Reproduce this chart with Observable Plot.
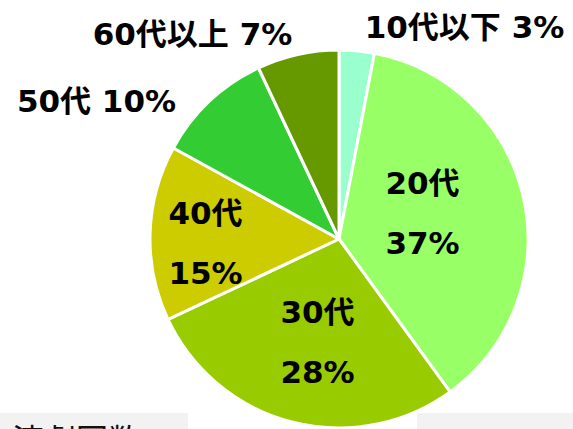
<!DOCTYPE html>
<html><head><meta charset="utf-8">
<script src="https://cdn.jsdelivr.net/npm/d3@7"></script>
<script src="https://cdn.jsdelivr.net/npm/@observablehq/plot@0.6"></script>
<style>
body{margin:0;background:#fff;overflow:hidden}
#wrap{position:relative;width:573px;height:429px}
.box{position:absolute;top:413px;height:16px;background:#f2f2f2;overflow:hidden}
.box span{position:absolute;top:9px;font-family:"Noto Sans CJK JP",sans-serif;font-size:32px;line-height:1;color:#111;white-space:nowrap}
</style>
</head><body>
<div id="wrap">
  <div class="box" style="left:0;width:188px"><span style="left:-20px">の演劇回数</span></div>
  <div class="box" style="left:417px;width:156px"></div>
</div>
<script>
// data
const categories = ["10代以下", "20代", "30代", "40代", "50代", "60代以上"];
const values = [3, 37, 28, 15, 10, 7];
const colors = ["#99ffcc", "#99ff66", "#99cc00", "#cccc00", "#33cc33", "#669900"];

// layout
const W = 573, H = 429, cx = 339, cy = 239, R = 189;
const inside = [false, true, true, true, false, false];
const labelOffset = [[125, -221], [83, -35], [-22, 94], [-134, -5], [-243, -147], [-147, -214]]; // px from center

const data = categories.map((c, i) => ({category: c, value: values[i]}));
const arcs = d3.pie().sort(null).value(d => d.value)(data);
const labels = data.map((d, i) => ({
  x: labelOffset[i][0] / R,
  y: labelOffset[i][1] / R,
  text: inside[i] ? `${d.category}\n${d.value}%` : `${d.category} ${d.value}%`
}));

const chart = Plot.plot({
  width: W, height: H,
  margin: 0,
  style: {background: "transparent", overflow: "visible"},
  x: {domain: [-cx / R, (W - cx) / R], range: [0, W], axis: null},
  y: {domain: [-cy / R, (H - cy) / R], range: [0, H], axis: null},
  color: {domain: categories, range: colors},
  marks: [
    Plot.dot(arcs, {
      x: () => 0, y: () => 0, fill: d => d.data.category,
      render: (index, scales) => {
        const g = d3.create("svg:g");
        const x0 = scales.x(0), y0 = scales.y(0), r = scales.x(1) - scales.x(0);
        const arc = d3.arc().innerRadius(0).outerRadius(r);
        g.attr("transform", `translate(${x0},${y0})`)
          .selectAll("path").data(arcs).join("path")
          .attr("d", arc)
          .attr("fill", d => scales.color(d.data.category))
          .attr("stroke", "white")
          .attr("stroke-width", 3)
          .attr("stroke-linejoin", "round");
        return g.node();
      }
    }),
    Plot.text(labels, {
      x: "x", y: "y", text: "text",
      fontSize: 31, fontWeight: "bold", lineHeight: 1.95,
      fontFamily: "'DejaVu Sans', 'Noto Sans CJK JP', sans-serif",
      fill: "#000", textAnchor: "middle"
    })
  ]
});
chart.style.position = "absolute";
chart.style.left = "0";
chart.style.top = "0";
document.getElementById("wrap").appendChild(chart);
</script>
</body></html>
